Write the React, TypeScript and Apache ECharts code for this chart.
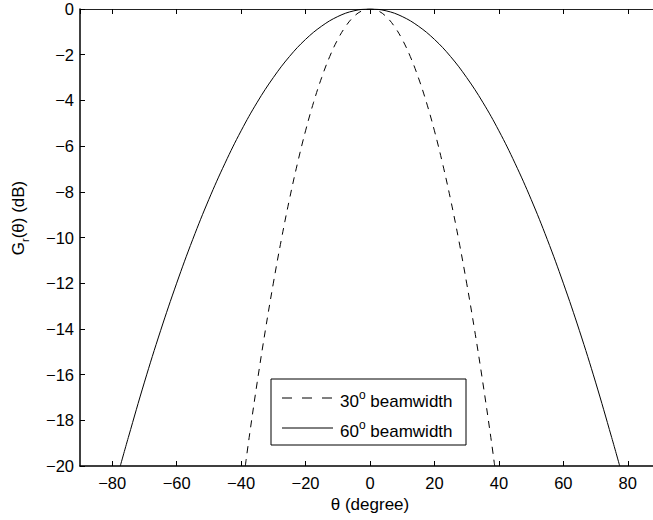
import React, { useEffect, useRef } from "react";
import * as echarts from "echarts";

// Gain (dB) vs angle (degree)
const theta30: number[] = [-38.7, -37.5, -35, -32.5, -30, -27.5, -25, -22.5, -20, -17.5, -15, -12.5, -10, -7.5, -5, -2.5, 0, 2.5, 5, 7.5, 10, 12.5, 15, 17.5, 20, 22.5, 25, 27.5, 30, 32.5, 35, 37.5, 38.7];
const gain30: number[] = [-20, -18.75, -16.33, -14.08, -12, -10.08, -8.33, -6.75, -5.33, -4.08, -3, -2.08, -1.33, -0.75, -0.33, -0.08, 0, -0.08, -0.33, -0.75, -1.33, -2.08, -3, -4.08, -5.33, -6.75, -8.33, -10.08, -12, -14.08, -16.33, -18.75, -20];
const theta60: number[] = [-77.5, -75, -70, -65, -60, -55, -50, -45, -40, -35, -30, -25, -20, -15, -10, -5, 0, 5, 10, 15, 20, 25, 30, 35, 40, 45, 50, 55, 60, 65, 70, 75, 77.5];
const gain60: number[] = [-20, -18.75, -16.33, -14.08, -12, -10.08, -8.33, -6.75, -5.33, -4.08, -3, -2.08, -1.33, -0.75, -0.33, -0.08, 0, -0.08, -0.33, -0.75, -1.33, -2.08, -3, -4.08, -5.33, -6.75, -8.33, -10.08, -12, -14.08, -16.33, -18.75, -20];
const seriesNames: string[] = ["30", "60"];

const FONT = "'Liberation Sans', Arial, Helvetica, sans-serif";
const minus = (v: number) => (v < 0 ? "\u2212" + Math.abs(v) : String(v));

export default function App() {
  const ref = useRef<HTMLDivElement>(null);
  useEffect(() => {
    document.body.style.margin = "0";
    const chart = echarts.init(ref.current!, null, { renderer: "svg" });
    const pairs = (xs: number[], ys: number[]) => xs.map((x, i) => [x, ys[i]]);
    const axisLabelStyle = { color: "#000", fontFamily: FONT, fontSize: 16.5 };
    chart.setOption({
      animation: false,
      backgroundColor: "#fff",
      grid: { left: 80, top: 9, right: -7, bottom: 54, containLabel: false, outerBoundsMode: "none" },
      xAxis: [
        {
          type: "value",
          min: -90,
          max: 90,
          splitNumber: 9,
          minInterval: 20,
          maxInterval: 20,
          position: "bottom",
          axisLine: { show: true, onZero: false, lineStyle: { color: "#000", width: 1.5 } },
          axisTick: { show: true, inside: true, length: 5, lineStyle: { color: "#000" } },
          axisLabel: { ...axisLabelStyle, margin: 8, showMinLabel: false, showMaxLabel: false, formatter: minus },
          splitLine: { show: false },
          name: "\u03b8 (degree)",
          nameLocation: "middle",
          nameGap: 29,
          nameTextStyle: { color: "#000", fontFamily: FONT, fontSize: 17 },
        },
        {
          type: "value",
          min: -90,
          max: 90,
          splitNumber: 9,
          minInterval: 20,
          maxInterval: 20,
          position: "top",
          axisLine: { show: true, onZero: false, lineStyle: { color: "#222", width: 1.2 } },
          axisTick: { show: true, inside: true, length: 5, lineStyle: { color: "#000" } },
          axisLabel: { show: false },
          splitLine: { show: false },
        },
      ],
      yAxis: {
        type: "value",
        min: -20,
        max: 0,
        interval: 2,
        axisLine: { show: true, onZero: false, lineStyle: { color: "#000", width: 1.5 } },
        axisTick: { show: true, inside: true, length: 5, lineStyle: { color: "#000" } },
        axisLabel: { ...axisLabelStyle, margin: 6, formatter: minus },
        splitLine: { show: false },
      },
      series: [
        {
          name: seriesNames[0],
          type: "line",
          data: pairs(theta30, gain30),
          showSymbol: false,
          smooth: 0.4,
          lineStyle: { color: "#000", width: 1, type: [7, 6] },
          clip: true,
        },
        {
          name: seriesNames[1],
          type: "line",
          data: pairs(theta60, gain60),
          showSymbol: false,
          smooth: 0.4,
          lineStyle: { color: "#000", width: 1 },
          clip: true,
        },
      ],
      graphic: [
        {
          type: "text",
          x: 18,
          y: 218,
          rotation: Math.PI / 2,
          style: {
            text: "{a|G}{s|r}{a|(\u03b8) (dB)}",
            align: "center",
            verticalAlign: "middle",
            fill: "#000",
            rich: {
              a: { fontFamily: FONT, fontSize: 17, lineHeight: 24, fill: "#000" },
              s: { fontFamily: FONT, fontSize: 11, lineHeight: 24, verticalAlign: "bottom", fill: "#000" },
            },
          },
        },
        {
          type: "rect",
          shape: { x: 271, y: 379, width: 195, height: 66 },
          style: { fill: "#fff", stroke: "#000", lineWidth: 1 },
          z: 100,
        },
        {
          type: "line",
          shape: { x1: 282, y1: 398, x2: 333, y2: 398 },
          style: { stroke: "#000", lineWidth: 1, lineDash: [10, 10] },
          z: 101,
        },
        {
          type: "line",
          shape: { x1: 282, y1: 428, x2: 333, y2: 428 },
          style: { stroke: "#000", lineWidth: 1 },
          z: 101,
        },
        {
          type: "text",
          x: 340,
          y: 401,
          z: 101,
          style: {
            text: "{a|" + seriesNames[0] + "}{s|o}{a| beamwidth}",
            verticalAlign: "middle",
            rich: {
              a: { fontFamily: FONT, fontSize: 17, lineHeight: 24, fill: "#000" },
              s: { fontFamily: FONT, fontSize: 12, lineHeight: 24, verticalAlign: "top", fill: "#000" },
            },
          },
        },
        {
          type: "text",
          x: 340,
          y: 431,
          z: 101,
          style: {
            text: "{a|" + seriesNames[1] + "}{s|o}{a| beamwidth}",
            verticalAlign: "middle",
            rich: {
              a: { fontFamily: FONT, fontSize: 17, lineHeight: 24, fill: "#000" },
              s: { fontFamily: FONT, fontSize: 12, lineHeight: 24, verticalAlign: "top", fill: "#000" },
            },
          },
        },
      ],
    });
    return () => chart.dispose();
  }, []);
  return <div ref={ref} style={{ position: "absolute", left: 0, top: 0, width: 653, height: 520 }} />;
}
